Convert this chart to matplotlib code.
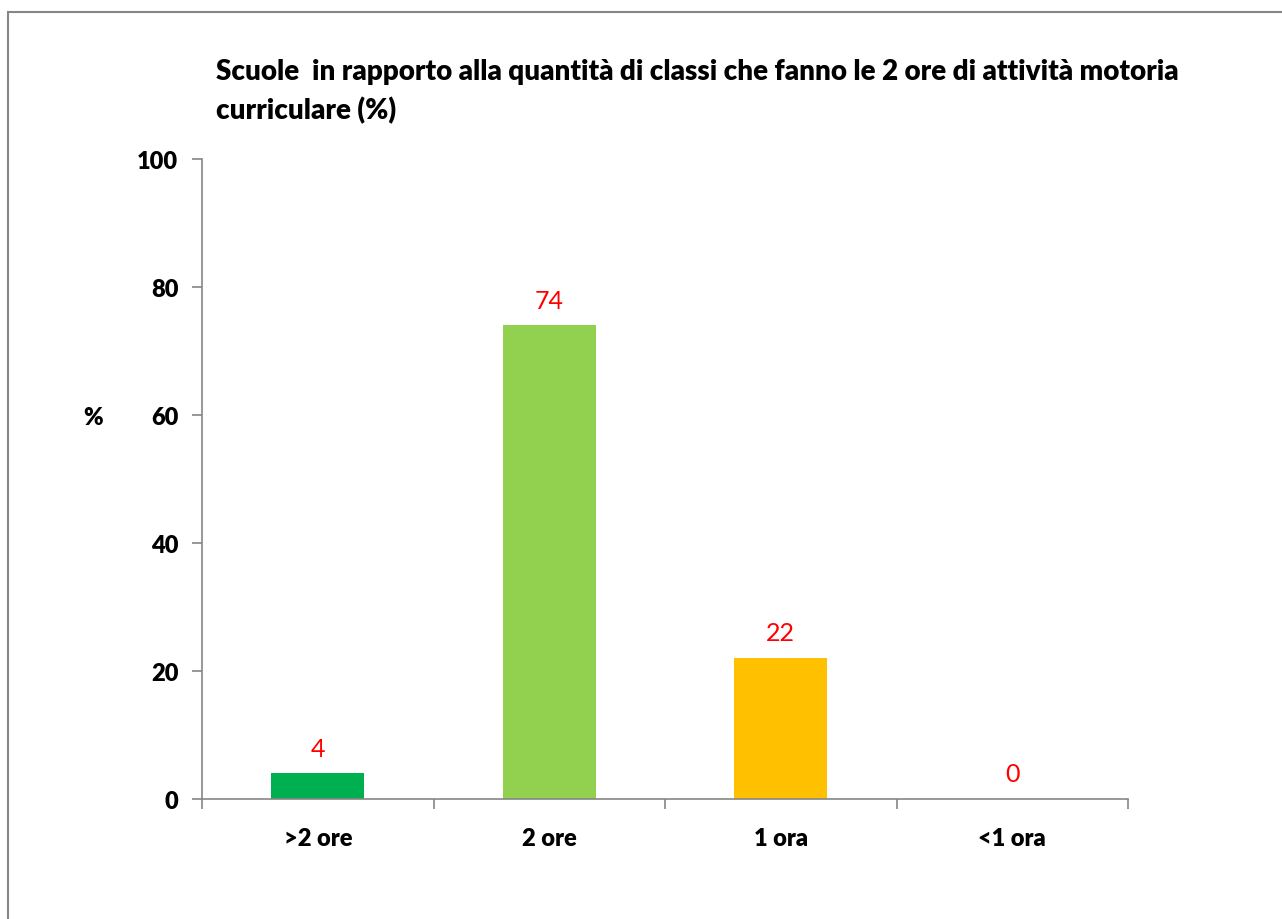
import matplotlib.pyplot as plt
from matplotlib.patches import Rectangle

plt.rcParams['font.family'] = ['Lato', 'DejaVu Sans']

# data
categorie = ['>2 ore', '2 ore', '1 ora', '<1 ora']
valori = [4, 74, 22, 0]
colori = ['#00B050', '#92D050', '#FFC000', '#5B9BD5']
titolo = 'Scuole  in rapporto alla quantità di classi che fanno le 2 ore di attività motoria\ncurriculare (%)'

fig = plt.figure(figsize=(12.82, 9.2), dpi=100)
ax = fig.add_axes([202/1282, 120/920, 926/1282, 640/920])

# cornice grigia del grafico
fig.patches.append(Rectangle((8/1282, -0.1), 1.1, (920-13)/920 + 0.1,
                             transform=fig.transFigure, fill=False,
                             edgecolor='#868686', linewidth=1.5))

x = list(range(len(categorie)))
ax.bar(x, valori, width=0.4, color=colori)

for xi, v in zip(x, valori):
    ax.annotate(str(v), (xi, v), xytext=(0, 10), textcoords='offset points',
                ha='center', va='bottom', color='#FF0000', fontsize=18)

ax.set_xlim(-0.5, len(categorie) - 0.5)
ax.set_ylim(0, 100)
ax.set_yticks(range(0, 101, 20))
ax.set_yticklabels([str(t) for t in range(0, 101, 20)], fontsize=17, fontweight='heavy')
ax.set_xticks([i - 0.5 for i in range(len(categorie) + 1)])
ax.set_xticklabels([])
ax.set_xticks(x, minor=True)
ax.set_xticklabels(categorie, minor=True, fontsize=17, fontweight='heavy')
ax.tick_params(axis='x', which='minor', length=0, pad=20)
ax.tick_params(axis='x', which='major', length=7, color='#868686', width=1.2)
ax.tick_params(axis='y', length=7, color='#868686', width=1.2, pad=10)

for s in ['top', 'right']:
    ax.spines[s].set_visible(False)
for s in ['left', 'bottom']:
    ax.spines[s].set_color('#868686')
    ax.spines[s].set_linewidth(1.2)

fig.text(93/1282, 1 - 418/920, '%', fontsize=17, fontweight='heavy', ha='center', va='center')
fig.text(216/1282, 1 - 59/920, titolo, fontsize=20, fontweight='heavy',
         ha='left', va='top', linespacing=1.55)

fig.savefig('out.png', dpi=100)
